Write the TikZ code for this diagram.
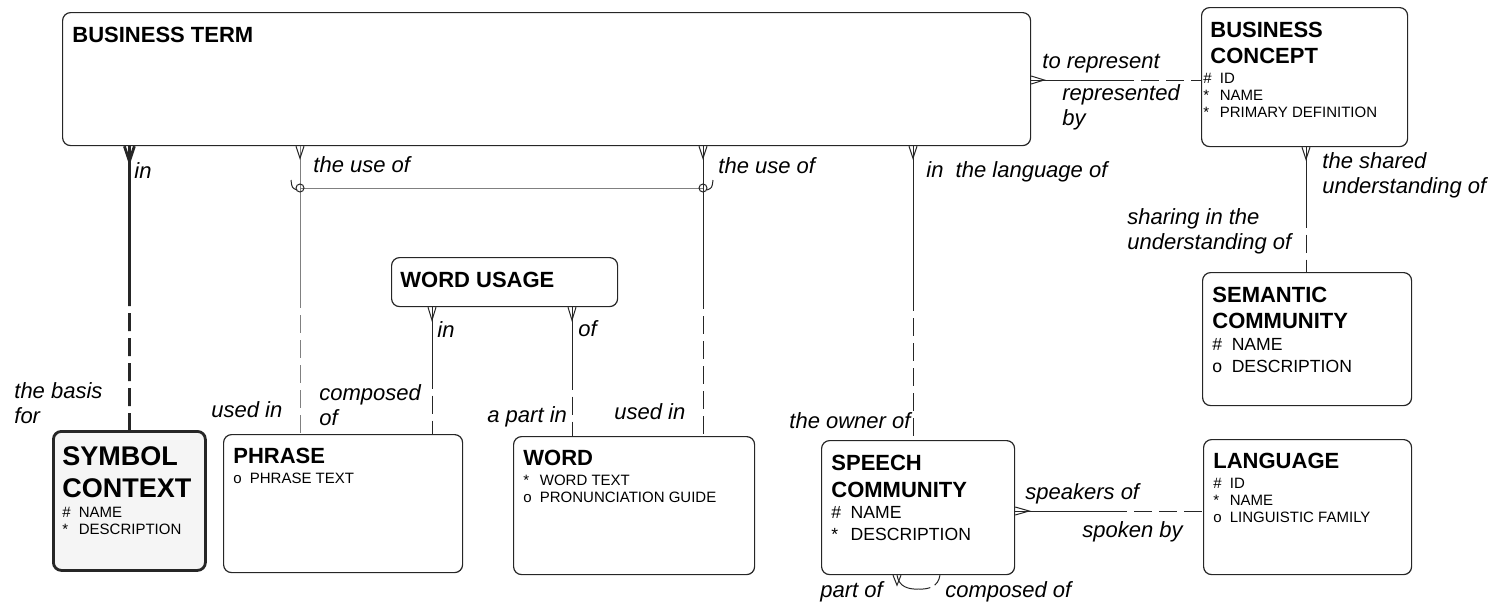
\documentclass[tikz,border=0pt]{standalone}
\usepackage{fontspec}
\setmainfont{Liberation Sans}
\usetikzlibrary{positioning, calc}

\newcommand{\attrmark}[1]{\makebox[1.1em][l]{#1}}

\begin{document}
\begin{tikzpicture}[
		x=0.5pt, y=-0.5pt,
		entity/.style={draw=black!85, line width=0.6pt, rounded corners=4pt, anchor=north west, inner sep=0pt},
		title/.style={font=\fontsize{11}{13}\selectfont\bfseries, anchor=base west, inner sep=0pt, align=left},
		attr/.style={font=\fontsize{7.5}{8.5}\selectfont, anchor=base west, inner sep=0pt, align=left},
		bigattr/.style={font=\fontsize{8.8}{10.75}\selectfont, anchor=base west, inner sep=0pt, align=left},
		role/.style={font=\fontsize{11}{12.25}\selectfont\itshape, anchor=base west, inner sep=0pt, align=left},
		rel/.style={draw=black!85, line width=0.5pt},
		opt/.style={dash pattern=on 9pt off 3.5pt},
		faint/.style={draw=black!50}
		]
		\useasboundingbox (0,0) rectangle (1501,606);
		
		% --- Entities (multi-line texts sit on their last baseline) ---
		\node[entity, minimum width=484pt, minimum height=66.5pt] (bt) at (62,12) {};
		\node[title] (bt-t) at (72,42) {BUSINESS TERM};
		
		\node[entity, minimum width=103pt, minimum height=69.5pt] (bc) at (1201,7) {};
		\node[title] (bc-t) at (1210,63) {BUSINESS\\CONCEPT};
		\node[attr] (bc-a) at (1203,117) {\attrmark{\#}ID\\\attrmark{*}NAME\\\attrmark{*}PRIMARY DEFINITION};
		
		\node[entity, line width=1.4pt, fill=black!4, minimum width=76pt, minimum height=69.5pt] (sc) at (52,430) {};
		\node[title, font=\fontsize{13.5}{16}\selectfont\bfseries] (sc-t) at (62,497) {SYMBOL\\CONTEXT};
		\node[attr] (sc-a) at (62,534) {\attrmark{\#}NAME\\\attrmark{*}DESCRIPTION};
		
		\node[entity, minimum width=119.5pt, minimum height=69pt] (ph) at (223,434) {};
		\node[title] (ph-t) at (233,463) {PHRASE};
		\node[attr] (ph-a) at (233,483) {\attrmark{o}PHRASE TEXT};
		
		\node[entity, minimum width=113pt, minimum height=24.5pt] (wu) at (391,257) {};
		\node[title] (wu-t) at (400,287) {WORD USAGE};
		
		\node[entity, minimum width=120.5pt, minimum height=69pt] (wd) at (513,436) {};
		\node[title] (wd-t) at (523,465) {WORD};
		\node[attr] (wd-a) at (523,502) {\attrmark{*}WORD TEXT\\\attrmark{o}PRONUNCIATION GUIDE};
		
		\node[entity, minimum width=96.5pt, minimum height=67pt] (spc) at (821,440) {};
		\node[title, font=\fontsize{11}{13.5}\selectfont\bfseries] (spc-t) at (831,497) {SPEECH\\COMMUNITY};
		\node[bigattr] (spc-a) at (831,540) {\attrmark{\#}NAME\\\attrmark{*}DESCRIPTION};
		
		\node[entity, minimum width=104.5pt, minimum height=66.5pt] (sem) at (1202,272) {};
		\node[title] (sem-t) at (1212,328) {SEMANTIC\\COMMUNITY};
		\node[bigattr] (sem-a) at (1212,372) {\attrmark{\#}NAME\\\attrmark{o}DESCRIPTION};
		
		\node[entity, minimum width=104pt, minimum height=67.5pt] (lang) at (1203,439) {};
		\node[title] (lang-t) at (1213,468) {LANGUAGE};
		\node[attr] (lang-a) at (1213,522) {\attrmark{\#}ID\\\attrmark{*}NAME\\\attrmark{o}LINGUISTIC FAMILY};
		
		% --- Relationship lanes ---
		\coordinate (arcL) at (300,188);
		\coordinate (arcR) at (703,188);
		\coordinate (langOf) at (913,0);
		\coordinate (represent) at (0,80);
		\coordinate (shared) at (1306,0);
		\coordinate (spoken) at (0,511);
		\coordinate (usageIn) at (432,0);
		\coordinate (usageOf) at (572,0);
		\coordinate (partOf) at (897,0);
		\coordinate (composedOf) at (940,0);
		
		% business term -- symbol context
		\coordinate (m-sc) at ($(bt.south -| sc.north)!.5!(sc.north)$);
		\draw[rel, line width=1.4pt] (bt.south -| sc.north) -- (m-sc);
		\draw[rel, opt, line width=1.4pt] (m-sc) -- (sc.north);
		\draw[rel, line width=1.4pt] (bt.south -| sc.north) ++(-5,0) -- ++(5,15) -- ++(5,-15);
		
		% business term -- phrase / word (exclusive arc)
		\coordinate (m-ph) at ($(bt.south -| arcL)!.5!(ph.north -| arcL)$);
		\draw[rel, faint] (bt.south -| arcL) -- (m-ph);
		\draw[rel, faint, opt] (m-ph) -- (ph.north -| arcL);
		\draw[rel] (bt.south -| arcL) ++(-4,0) -- ++(4,12) -- ++(4,-12);
		
		\coordinate (m-wd) at ($(bt.south -| arcR)!.5!(wd.north -| arcR)$);
		\draw[rel] (bt.south -| arcR) -- (m-wd);
		\draw[rel, opt] (m-wd) -- (wd.north -| arcR);
		\draw[rel] (bt.south -| arcR) ++(-4,0) -- ++(4,12) -- ++(4,-12);
		
		\draw[rel, faint] (arcL) -- (arcR);
		\draw[rel] (arcL) circle[radius=4] (arcR) circle[radius=4];
		\draw[rel] ([shift={(-9,-8)}]arcL) .. controls ([shift={(-8,0)}]arcL) .. ([shift={(-3,2)}]arcL);
		\draw[rel] ([shift={(10,-8)}]arcR) .. controls ([shift={(9,0)}]arcR) .. ([shift={(4,2)}]arcR);
		
		% business term -- speech community
		\coordinate (m-spc) at ($(bt.south -| langOf)!.5!(spc.north -| langOf)$);
		\draw[rel] (bt.south -| langOf) -- (m-spc);
		\draw[rel, opt] (m-spc) -- (spc.north -| langOf);
		\draw[rel] (bt.south -| langOf) ++(-4,0) -- ++(4,12) -- ++(4,-12);
		
		% business term -- business concept
		\coordinate (m-bc) at ($(bt.east |- represent)!.5!(bc.west |- represent)$);
		\draw[rel] (bt.east |- represent) -- (m-bc);
		\draw[rel, opt] (m-bc) -- (bc.west |- represent);
		\draw[rel] (bt.east |- represent) ++(0,-4) -- ++(13,4) -- ++(-13,4);
		
		% business concept -- semantic community
		\coordinate (m-sem) at ($(bc.south -| shared)!.5!(sem.north -| shared)$);
		\draw[rel] (bc.south -| shared) -- (m-sem);
		\draw[rel, opt] (m-sem) -- (sem.north -| shared);
		\draw[rel] (bc.south -| shared) ++(-4,0) -- ++(4,12) -- ++(4,-12);
		
		% speech community -- language
		\coordinate (m-lang) at ($(spc.east |- spoken)!.5!(lang.west |- spoken)$);
		\draw[rel] (spc.east |- spoken) -- (m-lang);
		\draw[rel, opt] (m-lang) -- (lang.west |- spoken);
		\draw[rel] (spc.east |- spoken) ++(0,-4) -- ++(14,4) -- ++(-14,4);
		
		% word usage -- phrase / word
		\coordinate (m-wu1) at ($(wu.south -| usageIn)!.5!(ph.north -| usageIn)$);
		\draw[rel] (wu.south -| usageIn) -- (m-wu1);
		\draw[rel, opt] (m-wu1) -- (ph.north -| usageIn);
		\draw[rel] (wu.south -| usageIn) ++(-4,0) -- ++(4,13) -- ++(4,-13);
		
		\coordinate (m-wu2) at ($(wu.south -| usageOf)!.5!(wd.north -| usageOf)$);
		\draw[rel] (wu.south -| usageOf) -- (m-wu2);
		\draw[rel, opt] (m-wu2) -- (wd.north -| usageOf);
		\draw[rel] (wu.south -| usageOf) ++(-4,0) -- ++(4,13) -- ++(4,-13);
		
		% speech community -- itself
		\coordinate (loopM) at ($(spc.south -| partOf)!.5!(spc.south -| composedOf) + (0,14)$);
		\draw[rel] (spc.south -| partOf) .. controls +(2,12) and +(-10,0) .. (loopM);
		\draw[rel, dash pattern=on 6pt off 2.5pt] (loopM) .. controls +(10,0) and +(-2,12) .. (spc.south -| composedOf);
		\draw[rel] (spc.south -| partOf) ++(-4,0) -- ++(4,10) -- ++(4,-10);
		
		% --- Role names ---
		\node[role] (r-in) at (134,178) {in};
		\node[role] (r-basis) at (14,423) {the basis\\for};
		\node[role] (r-use1) at (313,172) {the use of};
		\node[role] (r-used1) at (211,417) {used in};
		\node[role] (r-use2) at (718,173) {the use of};
		\node[role] (r-used2) at (614,419) {used in};
		\node[role] (r-langof) at (926,177) {in\ \ the language of};
		\node[role] (r-owner) at (789,428) {the owner of};
		\node[role] (r-torep) at (1042,68) {to represent};
		\node[role] (r-repby) at (1062,125) {represented\\by};
		\node[role] (r-shared) at (1322,193) {the shared\\understanding of};
		\node[role] (r-sharing) at (1127,249) {sharing in the\\understanding of};
		\node[role] (r-wuin) at (437,337) {in};
		\node[role] (r-comp) at (319,425) {composed\\of};
		\node[role] (r-wuof) at (578,336) {of};
		\node[role] (r-part) at (487,422) {a part in};
		\node[role] (r-speak) at (1025,499) {speakers of};
		\node[role] (r-spoken) at (1082,537) {spoken by};
		\node[role] (r-partof) at (820,597) {part of};
		\node[role] (r-compof) at (945,597) {composed of};
		
	\end{tikzpicture}
\end{document}
